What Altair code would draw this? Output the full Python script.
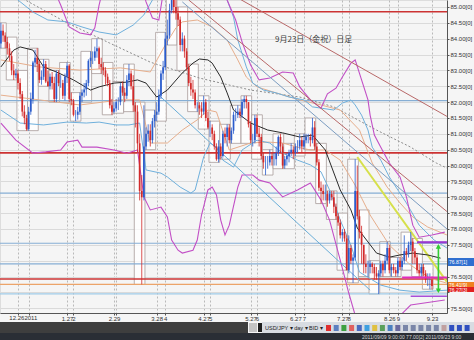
import altair as alt
import pandas as pd

# ---------------- data (USD/JPY daily) ----------------
first_day = -8  # trading-day index of the first candle (0 = 12.27)
opens = [83.85, 84.25, 84.10, 83.90, 83.70, 83.45, 83.00, 82.85,
         82.90, 82.60, 82.25, 81.70, 81.50,
         81.15, 81.70, 82.10, 83.25, 83.40,
         83.20, 82.70, 82.80, 83.20, 82.65,
         82.50, 82.80, 82.60, 82.10, 82.90,
         82.60, 82.60, 82.20, 82.80, 83.15,
         82.10, 82.05, 81.60, 81.60, 81.70,
         82.20, 82.30, 82.40, 82.60, 83.30,
         83.40, 83.40, 83.60, 83.70, 83.20,
         83.10, 83.00, 82.80, 82.60, 81.90,
         81.70, 81.80, 82.00, 82.00, 82.50,
         82.30, 82.20, 82.70, 82.90, 82.50,
         81.90, 81.70, 80.70, 79.20, 79.00,
         80.60, 81.00, 81.10, 80.80, 81.40,
         81.60, 81.70, 82.20, 82.90, 83.10,
         84.00, 84.10, 84.90, 85.40, 85.00,
         84.80, 84.60, 83.80, 84.00, 83.60,
         83.10, 82.60, 82.40, 82.30, 81.90,
         81.90, 81.80, 81.70, 82.00, 81.50,
         81.20, 81.20, 81.00, 80.60, 80.20,
         80.60, 80.30, 81.00, 80.90, 81.20,
         80.80, 81.10, 81.60, 81.60, 81.70,
         81.60, 82.00, 82.10, 82.00, 81.30,
         80.80, 80.80, 81.50, 81.00, 80.90,
         80.30, 80.10, 80.10, 80.10, 80.30,
         80.20, 80.20, 80.40, 80.90, 80.60,
         80.00, 80.20, 80.30, 80.40, 80.50,
         80.40, 80.60, 80.60, 80.80, 80.60,
         80.80, 80.90, 80.90, 80.80, 81.20,
         80.60, 80.10, 79.30, 79.20, 79.10,
         79.10, 78.90, 79.10, 79.00, 78.70,
         78.40, 78.20, 77.80, 77.90, 77.70,
         76.70, 77.40, 77.00, 77.10, 79.20,
         78.40, 77.90, 77.50, 76.90, 76.80,
         76.80, 76.90, 76.80, 76.60, 76.50,
         76.60, 76.90, 76.70, 77.00, 77.40,
         76.70, 76.80, 76.70, 76.60, 77.00,
         76.80, 77.00, 77.30, 77.20, 77.50,
         77.60, 77.30, 77.10, 76.70, 76.60,
         76.80, 76.60, 76.40, 76.40, 76.40]
highs = [84.50, 84.45, 84.20, 84.05, 83.85, 83.60, 83.20, 83.05,
         83.00, 82.75, 82.35, 81.90, 81.60,
         81.85, 82.30, 83.30, 83.65, 83.70,
         83.30, 83.00, 83.35, 83.30, 83.00,
         82.90, 82.95, 82.80, 83.00, 83.00,
         82.85, 82.70, 82.90, 83.25, 83.20,
         82.30, 82.10, 81.75, 81.85, 82.30,
         82.40, 82.60, 82.70, 83.35, 83.60,
         83.60, 83.75, 84.00, 83.75, 83.40,
         83.25, 83.10, 82.90, 82.70, 82.10,
         82.00, 82.10, 82.15, 82.60, 82.65,
         82.45, 82.85, 83.20, 83.00, 82.85,
         82.00, 81.90, 81.00, 79.70, 81.90,
         81.20, 81.30, 81.30, 81.50, 81.75,
         82.00, 82.40, 83.00, 83.30, 84.20,
         84.60, 85.10, 85.55, 85.50, 85.30,
         85.00, 84.70, 84.20, 84.10, 83.70,
         83.20, 82.80, 82.70, 82.40, 82.00,
         82.00, 82.00, 82.20, 82.10, 81.70,
         81.40, 81.30, 81.10, 80.70, 80.80,
         80.70, 81.10, 81.20, 81.30, 81.30,
         81.20, 81.70, 81.80, 81.90, 81.80,
         82.10, 82.20, 82.20, 82.00, 81.40,
         81.00, 81.60, 81.60, 81.20, 81.00,
         80.40, 80.30, 80.30, 80.50, 80.40,
         80.40, 80.60, 80.95, 81.00, 80.70,
         80.30, 80.40, 80.50, 80.70, 80.60,
         80.70, 80.80, 81.00, 80.90, 81.00,
         81.00, 81.00, 81.00, 81.50, 81.40,
         80.70, 80.20, 79.50, 79.40, 79.40,
         79.20, 79.20, 79.20, 79.20, 78.80,
         78.50, 78.30, 78.00, 78.00, 77.80,
         77.80, 77.50, 77.20, 80.20, 80.00,
         78.60, 78.10, 77.50, 77.20, 77.00,
         77.00, 76.95, 76.90, 76.80, 76.70,
         77.00, 77.00, 77.20, 77.60, 77.50,
         76.90, 76.90, 76.80, 77.10, 77.10,
         77.10, 77.80, 77.40, 77.60, 77.90,
         77.70, 77.40, 77.20, 76.90, 76.90,
         76.90, 76.70, 76.60, 76.60, 76.50]
lows = [83.70, 83.90, 83.70, 83.50, 83.30, 82.85, 82.70, 82.75,
        82.40, 82.10, 81.55, 81.30, 81.10,
        81.10, 81.60, 81.95, 83.10, 82.95,
        82.60, 82.55, 82.70, 82.60, 82.50,
        82.40, 82.40, 82.00, 82.00, 82.50,
        82.45, 82.10, 82.05, 82.60, 82.00,
        81.90, 81.55, 81.40, 81.45, 81.60,
        82.00, 82.15, 82.20, 82.50, 83.10,
        83.20, 83.30, 83.40, 83.05, 82.90,
        82.85, 82.55, 82.50, 81.80, 81.60,
        81.65, 81.70, 81.75, 81.90, 82.20,
        82.00, 82.10, 82.50, 82.40, 81.70,
        81.20, 80.40, 78.90, 76.25, 78.90,
        80.50, 80.75, 80.60, 80.70, 81.20,
        81.40, 81.60, 82.10, 82.70, 83.00,
        83.80, 84.00, 84.80, 84.80, 84.60,
        84.40, 83.60, 83.60, 83.40, 83.00,
        82.50, 82.20, 82.10, 81.80, 81.70,
        81.60, 81.50, 81.60, 81.40, 81.15,
        80.90, 80.80, 80.50, 80.15, 80.10,
        80.20, 80.25, 80.70, 80.60, 80.70,
        80.70, 81.00, 81.40, 81.50, 81.50,
        81.50, 81.80, 81.80, 81.20, 80.70,
        80.60, 80.70, 80.90, 80.60, 80.20,
        79.90, 79.70, 79.90, 80.00, 80.00,
        80.00, 80.00, 80.30, 80.40, 79.90,
        79.90, 80.00, 80.10, 80.30, 80.20,
        80.30, 80.40, 80.50, 80.40, 80.50,
        80.70, 80.70, 80.60, 80.70, 80.50,
        80.00, 79.20, 78.80, 78.90, 78.90,
        78.70, 78.80, 78.90, 78.50, 78.30,
        78.10, 77.70, 77.60, 77.60, 76.70,
        76.60, 76.90, 76.30, 77.00, 78.30,
        77.70, 76.90, 76.60, 76.60, 76.50,
        76.60, 76.60, 76.40, 76.40, 75.95,
        76.50, 76.50, 76.60, 76.90, 76.60,
        76.50, 76.60, 76.50, 76.50, 76.70,
        76.70, 76.90, 77.00, 77.10, 77.30,
        76.90, 76.90, 76.60, 76.50, 76.50,
        76.50, 76.30, 76.20, 76.10, 76.10]
closes = [84.25, 84.10, 83.90, 83.70, 83.45, 83.00, 82.85, 82.90,
          82.60, 82.25, 81.70, 81.50, 81.15,
          81.70, 82.10, 83.25, 83.40, 83.20,
          82.70, 82.80, 83.20, 82.65, 82.50,
          82.80, 82.60, 82.10, 82.90, 82.60,
          82.60, 82.20, 82.80, 83.15, 82.10,
          82.05, 81.60, 81.60, 81.70, 82.20,
          82.30, 82.40, 82.60, 83.30, 83.40,
          83.40, 83.60, 83.70, 83.20, 83.10,
          83.00, 82.80, 82.60, 81.90, 81.70,
          81.80, 82.00, 82.00, 82.50, 82.30,
          82.20, 82.70, 82.90, 82.50, 81.90,
          81.70, 80.70, 79.20, 79.00, 80.60,
          81.00, 81.10, 80.80, 81.40, 81.60,
          81.70, 82.20, 82.90, 83.10, 84.00,
          84.10, 84.90, 85.40, 85.00, 84.80,
          84.60, 83.80, 84.00, 83.60, 83.10,
          82.60, 82.40, 82.30, 81.90, 81.90,
          81.80, 81.70, 82.00, 81.50, 81.20,
          81.20, 81.00, 80.60, 80.20, 80.60,
          80.30, 81.00, 80.90, 81.20, 80.80,
          81.10, 81.60, 81.60, 81.70, 81.60,
          82.00, 82.10, 82.00, 81.30, 80.80,
          80.80, 81.50, 81.00, 80.90, 80.30,
          80.10, 80.10, 80.10, 80.30, 80.20,
          80.20, 80.40, 80.90, 80.60, 80.00,
          80.20, 80.30, 80.40, 80.50, 80.40,
          80.60, 80.60, 80.80, 80.60, 80.80,
          80.90, 80.90, 80.80, 81.20, 80.60,
          80.10, 79.30, 79.20, 79.10, 79.10,
          78.90, 79.10, 79.00, 78.70, 78.40,
          78.20, 77.80, 77.90, 77.70, 76.70,
          77.40, 77.00, 77.10, 79.20, 78.40,
          77.90, 77.50, 76.90, 76.80, 76.80,
          76.90, 76.80, 76.60, 76.50, 76.60,
          76.90, 76.70, 77.00, 77.40, 76.70,
          76.80, 76.70, 76.60, 77.00, 76.80,
          77.00, 77.30, 77.20, 77.50, 77.60,
          77.30, 77.10, 76.70, 76.60, 76.80,
          76.60, 76.40, 76.40, 76.40, 76.20]

tick_days = [0, 5, 23, 26, 45, 46, 65, 69, 87, 90, 109, 112, 130, 134, 152, 155, 174, 178, 194]
tick_labels = ["", "", "1.27", "2", "2.29", "", "3.28", "4", "4.27", "5",
               "5.27", "6", "6.27", "7", "7.27", "8", "8.26", "9", "9.23"]
year_label = "12.262011"   # the merged "12.26" / "2011" label under the first two ticks
price_levels = [75.5, 76.0, 76.5, 77.0, 77.5, 78.0, 78.5, 79.0, 79.5, 80.0,
                80.5, 81.0, 81.5, 82.0, 82.5, 83.0, 83.5, 84.0, 84.5, 85.0]
hidden_price_labels = [76.0, 77.0]  # covered by the price tags

# horizontal support / resistance levels
red_levels = [84.85, 80.40, 76.42]
blue_levels = [82.05, 79.13, 77.55, 76.90]
orange_levels = [76.25]
sky_levels = [75.95]

# indicator curves (trading-day index, price)
ma_day = [-8, -2, 1, 7, 12, 18, 26, 34, 38, 45, 51, 56, 60, 65, 70, 77, 82, 85, 89, 91,
          95, 98, 101, 109, 117, 124, 132, 138, 144, 151, 156, 159, 164, 168, 174, 179, 185, 192, 198]
ma_px = [83.11, 83.64, 83.74, 83.64, 83.11, 82.95, 82.70, 82.38, 82.48, 82.60, 82.63, 82.70, 82.60,
         82.16, 82.38, 82.92, 83.23, 83.36, 83.33, 83.23, 82.79, 82.29, 81.75, 81.34, 81.12, 81.03,
         80.90, 80.96, 80.49, 79.23, 78.60, 78.03, 77.59, 77.24, 77.11, 77.18, 77.24, 77.18, 77.08]
bb_up_day = [-8, 15, 20, 24, 29, 34, 36, 38, 42, 56, 60, 63, 66, 69, 95, 98, 102, 105, 109, 113,
             118, 124, 129, 132, 137, 142, 145, 149, 152, 156, 158, 161, 164, 165, 167, 170, 174,
             179, 182, 185, 188, 194, 200]
bb_up_px = [86.2, 85.85, 85.06, 84.37, 84.18, 84.12, 84.34, 85.06, 86.17, 86.17, 85.16, 84.65,
            84.59, 85.85, 86.5, 85.22, 84.59, 83.90, 83.17, 82.70, 82.76, 82.95, 82.92, 82.48,
            82.07, 81.81, 82.26, 82.44, 82.79, 83.23, 83.33, 82.70, 82.07, 81.59, 80.96, 80.58,
            80.08, 79.64, 79.01, 78.12, 77.74, 77.81, 77.90]
bb_lo_day = [-8, -1, 7, 13, 20, 23, 28, 30, 37, 45, 51, 56, 59, 62, 67, 70, 72, 75, 77, 82,
             84, 86, 89, 91, 93, 95, 97, 99, 103, 105, 110, 113, 118, 124, 131, 137, 142, 146,
             151, 155, 158, 163, 170, 177, 184, 200]
bb_lo_px = [81.34, 80.80, 80.39, 80.43, 80.49, 80.74, 80.80, 80.58, 80.58, 80.49, 80.39, 80.49,
            79.01, 78.60, 78.69, 78.38, 77.65, 77.33, 77.24, 77.33, 77.65, 78.44, 79.23, 79.32,
            79.07, 78.28, 77.81, 78.12, 79.32, 79.70, 79.70, 79.54, 79.45, 79.01, 79.23, 79.45,
            78.91, 78.28, 77.02, 75.98, 75.28, 74.5, 74.5, 75.13, 75.6, 75.76]
sd_up_day = [-8, 0, 7, 14, 23, 30, 38, 46, 54, 59, 63, 67, 95, 98, 101, 103, 107, 110, 115, 121,
             127, 134, 138, 148, 152, 156, 158, 161, 164, 166, 170, 174, 178, 182, 188, 195, 201]
sd_up_px = [85.69, 85.22, 84.84, 84.59, 84.53, 84.37, 84.21, 84.12, 84.43, 84.75, 85.22, 85.85,
            85.85, 85.22, 84.68, 83.96, 83.11, 82.60, 82.38, 82.29, 82.16, 82.07, 81.85, 81.75,
            81.97, 82.07, 81.91, 81.59, 81.12, 80.58, 80.17, 79.64, 79.23, 78.82, 78.12, 77.65, 77.40]
sd_lo_day = [-8, 1, 12, 23, 32, 38, 46, 52, 57, 60, 67, 70, 76, 81, 83, 87, 90, 93, 96, 101,
             105, 112, 118, 124, 131, 137, 142, 146, 151, 156, 160, 170, 179, 188, 201]
sd_lo_px = [81.75, 81.34, 81.28, 81.37, 81.34, 81.37, 81.28, 81.28, 81.34, 79.86, 79.76, 79.64,
            79.32, 79.13, 79.23, 80.27, 80.71, 80.58, 80.17, 79.95, 80.49, 80.80, 80.71, 80.39,
            80.17, 80.02, 79.80, 79.23, 78.28, 77.49, 76.64, 76.23, 76.07, 76.01, 76.07]
tan1_day = [-8, 10, 29, 48, 62, 69, 74, 77, 84, 91, 98, 103, 107, 112, 121, 132, 142, 151, 160,
            166, 173, 179, 185, 192, 201]
tan1_px = [83.33, 83.11, 83.01, 83.08, 82.95, 83.80, 84.34, 84.53, 84.59, 84.37, 83.96, 83.33,
           82.79, 82.48, 82.29, 82.07, 81.91, 81.75, 81.12, 80.08, 79.32, 78.82, 78.38, 78.06, 77.81]
tan2_day = [-8, 10, 29, 48, 57, 62, 70, 77, 84, 89, 93, 99, 109, 117, 124, 131, 137, 144, 151,
            158, 165, 174, 184, 193, 201]
tan2_px = [82.22, 82.07, 81.91, 82.07, 82.07, 80.71, 80.71, 81.12, 81.44, 81.75, 81.69, 80.49,
           80.71, 80.74, 80.71, 80.58, 80.49, 80.49, 80.17, 79.38, 78.44, 77.49, 76.86, 76.45, 76.29]
long_ma_day = [-1, 23, 43, 62, 85, 109, 132, 148, 168, 184, 196, 201]
long_ma_px = [85.38, 84.50, 83.86, 83.26, 82.76, 82.38, 82.16, 81.85, 81.12, 80.58, 80.08, 79.92]

# trend lines (two end points each)
trend_a_day, trend_a_px = [100, 201], [85.40, 81.55]
trend_b_day, trend_b_px = [80, 201], [85.22, 78.55]
trend_c_day, trend_c_px = [77, 201], [85.16, 78.00]
trend_d_day, trend_d_px = [66, 165], [82.22, 76.07]
yellow_day, yellow_px = [159, 201], [80.27, 76.33]

# right-hand marker segments
purple_day, purple_px = [187, 201], [77.58, 77.58]
magenta_day, magenta_px = [180, 201], [76.47, 76.47]
violet_day, violet_px = [184, 201], [75.88, 75.88]
arrow_day, arrow_top, arrow_bottom = [197], [77.45], [76.05]

# ---------------- chart ----------------
days = list(range(first_day, first_day + len(closes)))
candles = pd.DataFrame({"day": days, "open": opens, "high": highs, "low": lows, "close": closes})

XS = alt.Scale(domain=[-8.43, 201.03], nice=False, zero=False)
YS = alt.Scale(domain=[75.35, 85.22], nice=False, zero=False)
FONT = "Liberation Sans"

expr = "''"
for v, t in reversed(list(zip(tick_days, tick_labels))):
    expr = f"datum.value == {v} ? '{t}' : ({expr})"

hide = " || ".join(f"datum.value == {v}" for v in hidden_price_labels)
y_expr = f"({hide}) ? '' : format(datum.value, '.2f') + '[0]'"

x_axis = alt.Axis(values=tick_days, labelExpr=expr, grid=True, gridDash=[2, 2], gridColor="#b9b9b9",
                  labelFontSize=6, labelFont=FONT, labelColor="#333333", labelOverlap=False,
                  labelFlush=False, labelPadding=0, labelBaseline="top", tickSize=2,
                  tickColor="#555555", domainColor="#555555", title=None)
y_axis = alt.Axis(orient="right", values=price_levels, labelExpr=y_expr,
                  grid=True, gridColor="#dadada", labelFontSize=6, labelFont=FONT, labelColor="#333333",
                  labelPadding=1, tickSize=2, tickColor="#555555", domainColor="#555555", title=None)

def X(field):
    return alt.X(field, type="quantitative", scale=XS, axis=x_axis)

def Y(field):
    return alt.Y(field, type="quantitative", scale=YS, axis=y_axis)

layers = []

# weekly range boxes
boxes = alt.Chart(candles).transform_calculate(week="floor(datum.day / 5)").transform_aggregate(
    d0="min(day)", d1="max(day)", hi="max(high)", lo="min(low)", groupby=["week"]
).transform_calculate(xa="datum.d0 - 0.5", xb="datum.d1 + 0.5").mark_rect(
    fill="white", fillOpacity=0.75, stroke="#a89c9a", strokeWidth=0.8
).encode(x=X("xa"), x2="xb:Q", y=Y("hi"), y2="lo:Q")
layers.append(boxes)

def hlines(levels, color, width):
    return alt.Chart(pd.DataFrame({"p": levels})).mark_rule(color=color, strokeWidth=width).encode(y=Y("p"))

layers += [hlines(blue_levels, "#86aed4", 1.2), hlines(sky_levels, "#9fcbe8", 1.2),
           hlines(orange_levels, "#eca46a", 1.3), hlines(red_levels, "#cc3333", 1.6)]

def curve(dd, pp, color, width, dash=None, opacity=1.0):
    kw = dict(color=color, strokeWidth=width, clip=True, opacity=opacity)
    if dash:
        kw["strokeDash"] = dash
    return alt.Chart(pd.DataFrame({"d": dd, "p": pp})).mark_line(**kw).encode(x=X("d"), y=Y("p"))

layers += [
    curve(long_ma_day, long_ma_px, "#8c8c8c", 1, [2, 2]),
    curve(tan1_day, tan1_px, "#e6ae8c", 1),
    curve(tan2_day, tan2_px, "#e6ae8c", 1),
    curve(sd_up_day, sd_up_px, "#6fb0dc", 1),
    curve(sd_lo_day, sd_lo_px, "#6fb0dc", 1),
    curve(bb_up_day, bb_up_px, "#c24fc6", 1.1),
    curve(bb_lo_day, bb_lo_px, "#c24fc6", 1.1),
    curve(trend_a_day, trend_a_px, "#b86868", 1),
    curve(trend_b_day, trend_b_px, "#b86868", 1),
    curve(trend_c_day, trend_c_px, "#7b9cc0", 1),
    curve(trend_d_day, trend_d_px, "#6aaed8", 1),
    curve(yellow_day, yellow_px, "#d6e04a", 2),
    curve(ma_day, ma_px, "#2a2a2a", 1),
]

color_rule = alt.condition("datum.close >= datum.open", alt.value("#2b5ccc"), alt.value("#d22a2a"))
wicks = alt.Chart(candles).mark_rule(strokeWidth=0.8).encode(
    x=X("day"), y=Y("low"), y2="high:Q", color=color_rule)
bodies = alt.Chart(candles).mark_rule(strokeWidth=1.7).encode(
    x=X("day"), y=Y("open"), y2="close:Q", color=color_rule)
layers += [wicks, bodies]

layers += [
    curve(purple_day, purple_px, "#9a38d0", 2.2),
    curve(magenta_day, magenta_px, "#e02cc0", 2.2),
    curve(violet_day, violet_px, "#a850d8", 1.6),
]
arrow = pd.DataFrame({"d": arrow_day, "top": arrow_top, "bot": arrow_bottom})
layers += [
    alt.Chart(arrow).mark_rule(color="#33cc33", strokeWidth=1.6).encode(x=X("d"), y=Y("top"), y2="bot:Q"),
    alt.Chart(arrow).mark_point(shape="triangle-up", filled=True, size=28, color="#33cc33", opacity=1).encode(x=X("d"), y=Y("top")),
    alt.Chart(arrow).mark_point(shape="triangle-down", filled=True, size=28, color="#33cc33", opacity=1).encode(x=X("d"), y=Y("bot")),
]

# merged first date label, centred between its two ticks
first_lbl = pd.DataFrame({"d": [(tick_days[0] + tick_days[1]) / 2], "t": [year_label]})
layers.append(alt.Chart(first_lbl).mark_text(fontSize=6, font=FONT, color="#333333", baseline="top").encode(
    x=X("d"), y=alt.value(315), text="t:N"))

one = alt.Data(values=[{}])
layers.append(alt.Chart(one).mark_text(text="9月23日（金祝）日足", font="Noto Sans CJK JP", fontSize=8,
                                        color="#404040", align="left", baseline="middle").encode(
    x=alt.value(275), y=alt.value(40)))

# price tags on the right axis
def tag(y0, y1, fill, text):
    r = alt.Chart(one).mark_rect(color=fill).encode(x=alt.value(448), x2=alt.value(474),
                                                    y=alt.value(y0), y2=alt.value(y1))
    t = alt.Chart(one).mark_text(text=text, fontSize=5, font=FONT, color="white", align="left",
                                 baseline="middle").encode(x=alt.value(449), y=alt.value((y0 + y1) / 2))
    return [r, t]

layers += tag(258, 266, "#2f6fd0", "76.87[1]")
layers += tag(282, 287, "#f08020", "76.41[9]")
layers += tag(287, 292, "#e02020", "76.27[3]")

# bottom tool / status bars
def band(x0, x1, y0, y1, fill):
    return alt.Chart(one).mark_rect(color=fill).encode(x=alt.value(x0), x2=alt.value(x1),
                                                       y=alt.value(y0), y2=alt.value(y1))

layers += [band(0, 248, 322, 333, "#3e3e3e"), band(249, 257, 323, 332, "#c4c4c4"),
           band(258, 262, 323, 332, "#1e1e1e"), band(262, 474, 322, 333, "#d8dce2"),
           band(0, 474, 333, 340, "#2a2e35")]
layers.append(alt.Chart(one).mark_text(text="USD/JPY ▾  day ▾  BID ▾", fontSize=5.5, font=FONT,
                                        color="#222222", align="left", baseline="middle").encode(
    x=alt.value(265), y=alt.value(327.5)))
icon_colors = ["#e03030", "#5b7fc0", "#3ea040", "#e06060", "#4a6ac0", "#3fa0e0", "#e0c040",
               "#5aa05a", "#4a80c0", "#6a6aa0", "#7a86a8", "#7a86a8", "#7a86a8", "#7a86a8",
               "#7a86a8", "#c0a0a0", "#2f4fc0", "#2f4fc0", "#2f4fc0"]
for i, c in enumerate(icon_colors):
    x0 = 326 + i * 7.7
    layers.append(band(x0, x0 + 5, 325, 331, c))
layers.append(alt.Chart(one).mark_text(text="2011/09/09 9:00:00  77.00[2]   2011/09/23 9:00", fontSize=5,
                                        font=FONT, color="#d8d8d8", align="left", baseline="middle").encode(
    x=alt.value(362), y=alt.value(336.5)))

chart = alt.layer(*layers).properties(
    width=447, height=313,
    autosize=alt.AutoSizeParams(type="none"),
    padding={"left": 0, "top": 0, "right": 27, "bottom": 27},
).configure_view(fill="#efefef", stroke=None).configure(background="#f5f5f5")

chart.save("out.html", embed_options={"renderer": "svg", "actions": False})
